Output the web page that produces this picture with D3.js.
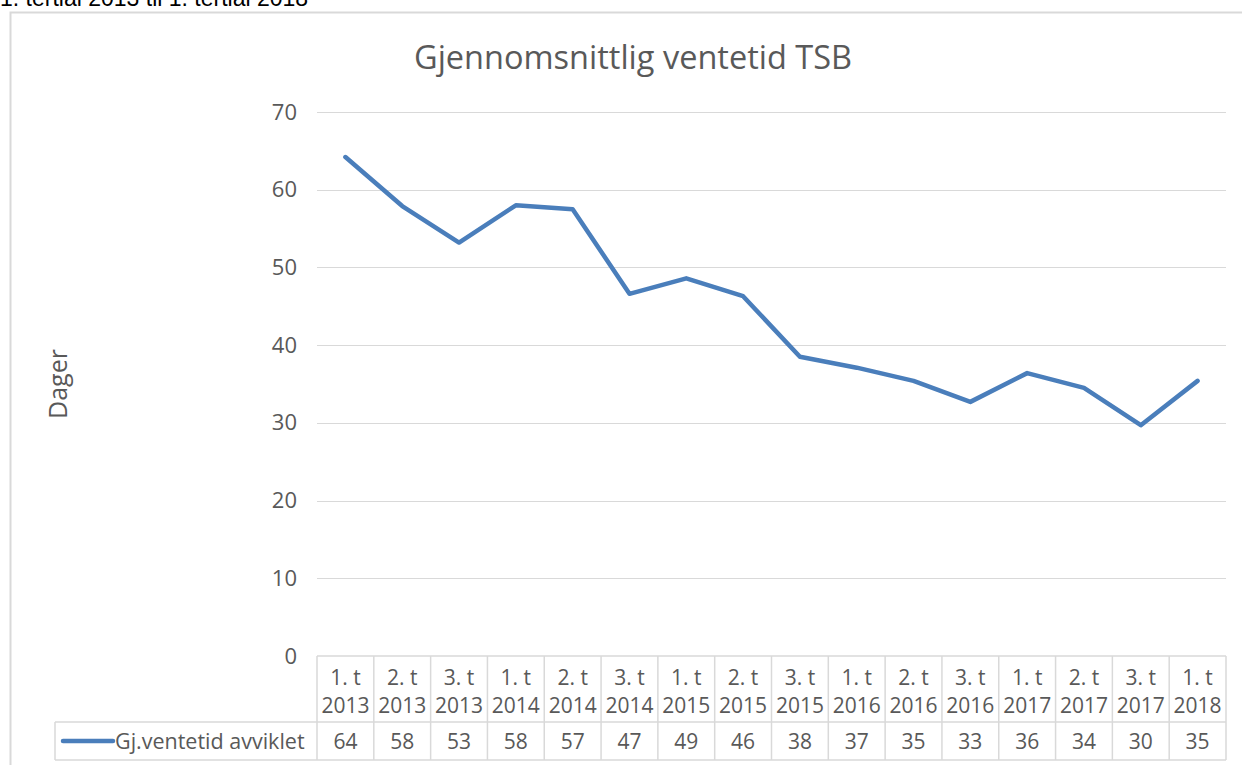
<!DOCTYPE html>
<html>
<head>
<meta charset="utf-8">
<script src="https://cdn.jsdelivr.net/npm/d3@7"></script>
<style>
  body { margin: 0; background: #fff; }
  svg { display: block; }
  text { font-family: "Open Sans", sans-serif; fill: #595959; }
</style>
</head>
<body>
<svg id="chart" width="1242" height="765"></svg>
<script>
// categories (two-line labels) and series
var periods = ["1. t", "2. t", "3. t", "1. t", "2. t", "3. t", "1. t", "2. t", "3. t", "1. t", "2. t", "3. t", "1. t", "2. t", "3. t", "1. t"];
var years = ["2013", "2013", "2013", "2014", "2014", "2014", "2015", "2015", "2015", "2016", "2016", "2016", "2017", "2017", "2017", "2018"];
var waitValues = [64.2, 57.9, 53.2, 58.0, 57.5, 46.6, 48.6, 46.3, 38.5, 37.1, 35.4, 32.7, 36.4, 34.5, 29.7, 35.4];
var tableValues = [64, 58, 53, 58, 57, 47, 49, 46, 38, 37, 35, 33, 36, 34, 30, 35];
var yTicks = [0, 10, 20, 30, 40, 50, 60, 70];
var seriesName = "Gj.ventetid avviklet";

var svg = d3.select("#chart");
var lineColor = "#4a7ebb";
var gridColor = "#d9d9d9";

var plot = {left: 317, right: 1226, top: 112, bottom: 656};
var rowSep = 722, tableBottom = 760, legendLeft = 55;

// clipped caption above the chart frame
svg.append("text")
   .attr("x", 0).attr("y", 6)
   .style("font-family", "Liberation Sans, Arial, sans-serif")
   .style("font-size", "23px")
   .style("fill", "#000")
   .text("1. tertial 2013 til 1. tertial 2018");

// chart frame
svg.append("rect")
   .attr("x", 10.5).attr("y", 12.5)
   .attr("width", 1250).attr("height", 770)
   .attr("fill", "none")
   .attr("stroke", "#d9d9d9")
   .attr("stroke-width", 2);

var x = d3.scaleBand()
          .domain(d3.range(periods.length))
          .range([plot.left, plot.right]);

var y = d3.scaleLinear()
          .domain([0, 70])
          .range([plot.bottom, plot.top]);

// title
svg.append("text")
   .attr("x", 633).attr("y", 69)
   .attr("text-anchor", "middle")
   .style("font-size", "32.5px")
   .text("Gjennomsnittlig ventetid TSB");

// axis title
svg.append("text")
   .attr("transform", "translate(67,384) rotate(-90)")
   .attr("text-anchor", "middle")
   .style("font-size", "25px")
   .text("Dager");

// gridlines
svg.append("g").selectAll("line")
   .data(yTicks.filter(function(d) { return d > 0; }))
   .enter().append("line")
   .attr("x1", plot.left).attr("x2", plot.right)
   .attr("y1", function(d) { return Math.round(y(d)) + 0.5; })
   .attr("y2", function(d) { return Math.round(y(d)) + 0.5; })
   .attr("stroke", gridColor)
   .attr("stroke-width", 1);

// y tick labels
var yAxis = d3.axisLeft(y).tickValues(yTicks).tickSize(0).tickPadding(20);
var yg = svg.append("g")
            .attr("transform", "translate(" + plot.left + ",0)")
            .call(yAxis);
yg.select(".domain").remove();
yg.selectAll("text")
  .style("font-size", "22px")
  .style("font-family", "Open Sans, sans-serif")
  .attr("fill", "#595959");

// data table grid
var table = svg.append("g").attr("stroke", gridColor).attr("stroke-width", 1.5);
table.append("line").attr("x1", plot.left).attr("x2", plot.right)
     .attr("y1", plot.bottom).attr("y2", plot.bottom);
table.append("line").attr("x1", legendLeft).attr("x2", plot.right)
     .attr("y1", rowSep).attr("y2", rowSep);
table.append("line").attr("x1", legendLeft).attr("x2", plot.right)
     .attr("y1", tableBottom).attr("y2", tableBottom);
table.append("line").attr("x1", legendLeft).attr("x2", legendLeft)
     .attr("y1", rowSep).attr("y2", tableBottom);
table.selectAll(".vline")
     .data(d3.range(periods.length + 1))
     .enter().append("line")
     .attr("class", "vline")
     .attr("x1", function(i) { return i < periods.length ? x(i) : plot.right; })
     .attr("x2", function(i) { return i < periods.length ? x(i) : plot.right; })
     .attr("y1", plot.bottom).attr("y2", tableBottom);

// header labels
var cx = function(d, i) { return x(i) + x.bandwidth() / 2; };
svg.append("g").selectAll("text")
   .data(periods).enter().append("text")
   .attr("x", cx).attr("y", 685)
   .attr("text-anchor", "middle")
   .style("font-size", "21px")
   .text(function(d) { return d; });
svg.append("g").selectAll("text")
   .data(years).enter().append("text")
   .attr("x", cx).attr("y", 713)
   .attr("text-anchor", "middle")
   .style("font-size", "21px")
   .text(function(d) { return d; });

// value row
svg.append("g").selectAll("text")
   .data(tableValues).enter().append("text")
   .attr("x", cx).attr("y", 749)
   .attr("text-anchor", "middle")
   .style("font-size", "21px")
   .text(function(d) { return d; });

// legend key in table
svg.append("line")
   .attr("x1", 63).attr("x2", 113)
   .attr("y1", 741).attr("y2", 741)
   .attr("stroke", lineColor)
   .attr("stroke-width", 4.5)
   .attr("stroke-linecap", "round");
svg.append("text")
   .attr("x", 115).attr("y", 749)
   .style("font-size", "21.5px")
   .text(seriesName);

// the series line
var line = d3.line()
             .x(function(d, i) { return x(i) + x.bandwidth() / 2; })
             .y(function(d) { return y(d); });

svg.append("path")
   .datum(waitValues)
   .attr("d", line)
   .attr("fill", "none")
   .attr("stroke", lineColor)
   .attr("stroke-width", 4.5)
   .attr("stroke-linejoin", "round")
   .attr("stroke-linecap", "round");
</script>
</body>
</html>
